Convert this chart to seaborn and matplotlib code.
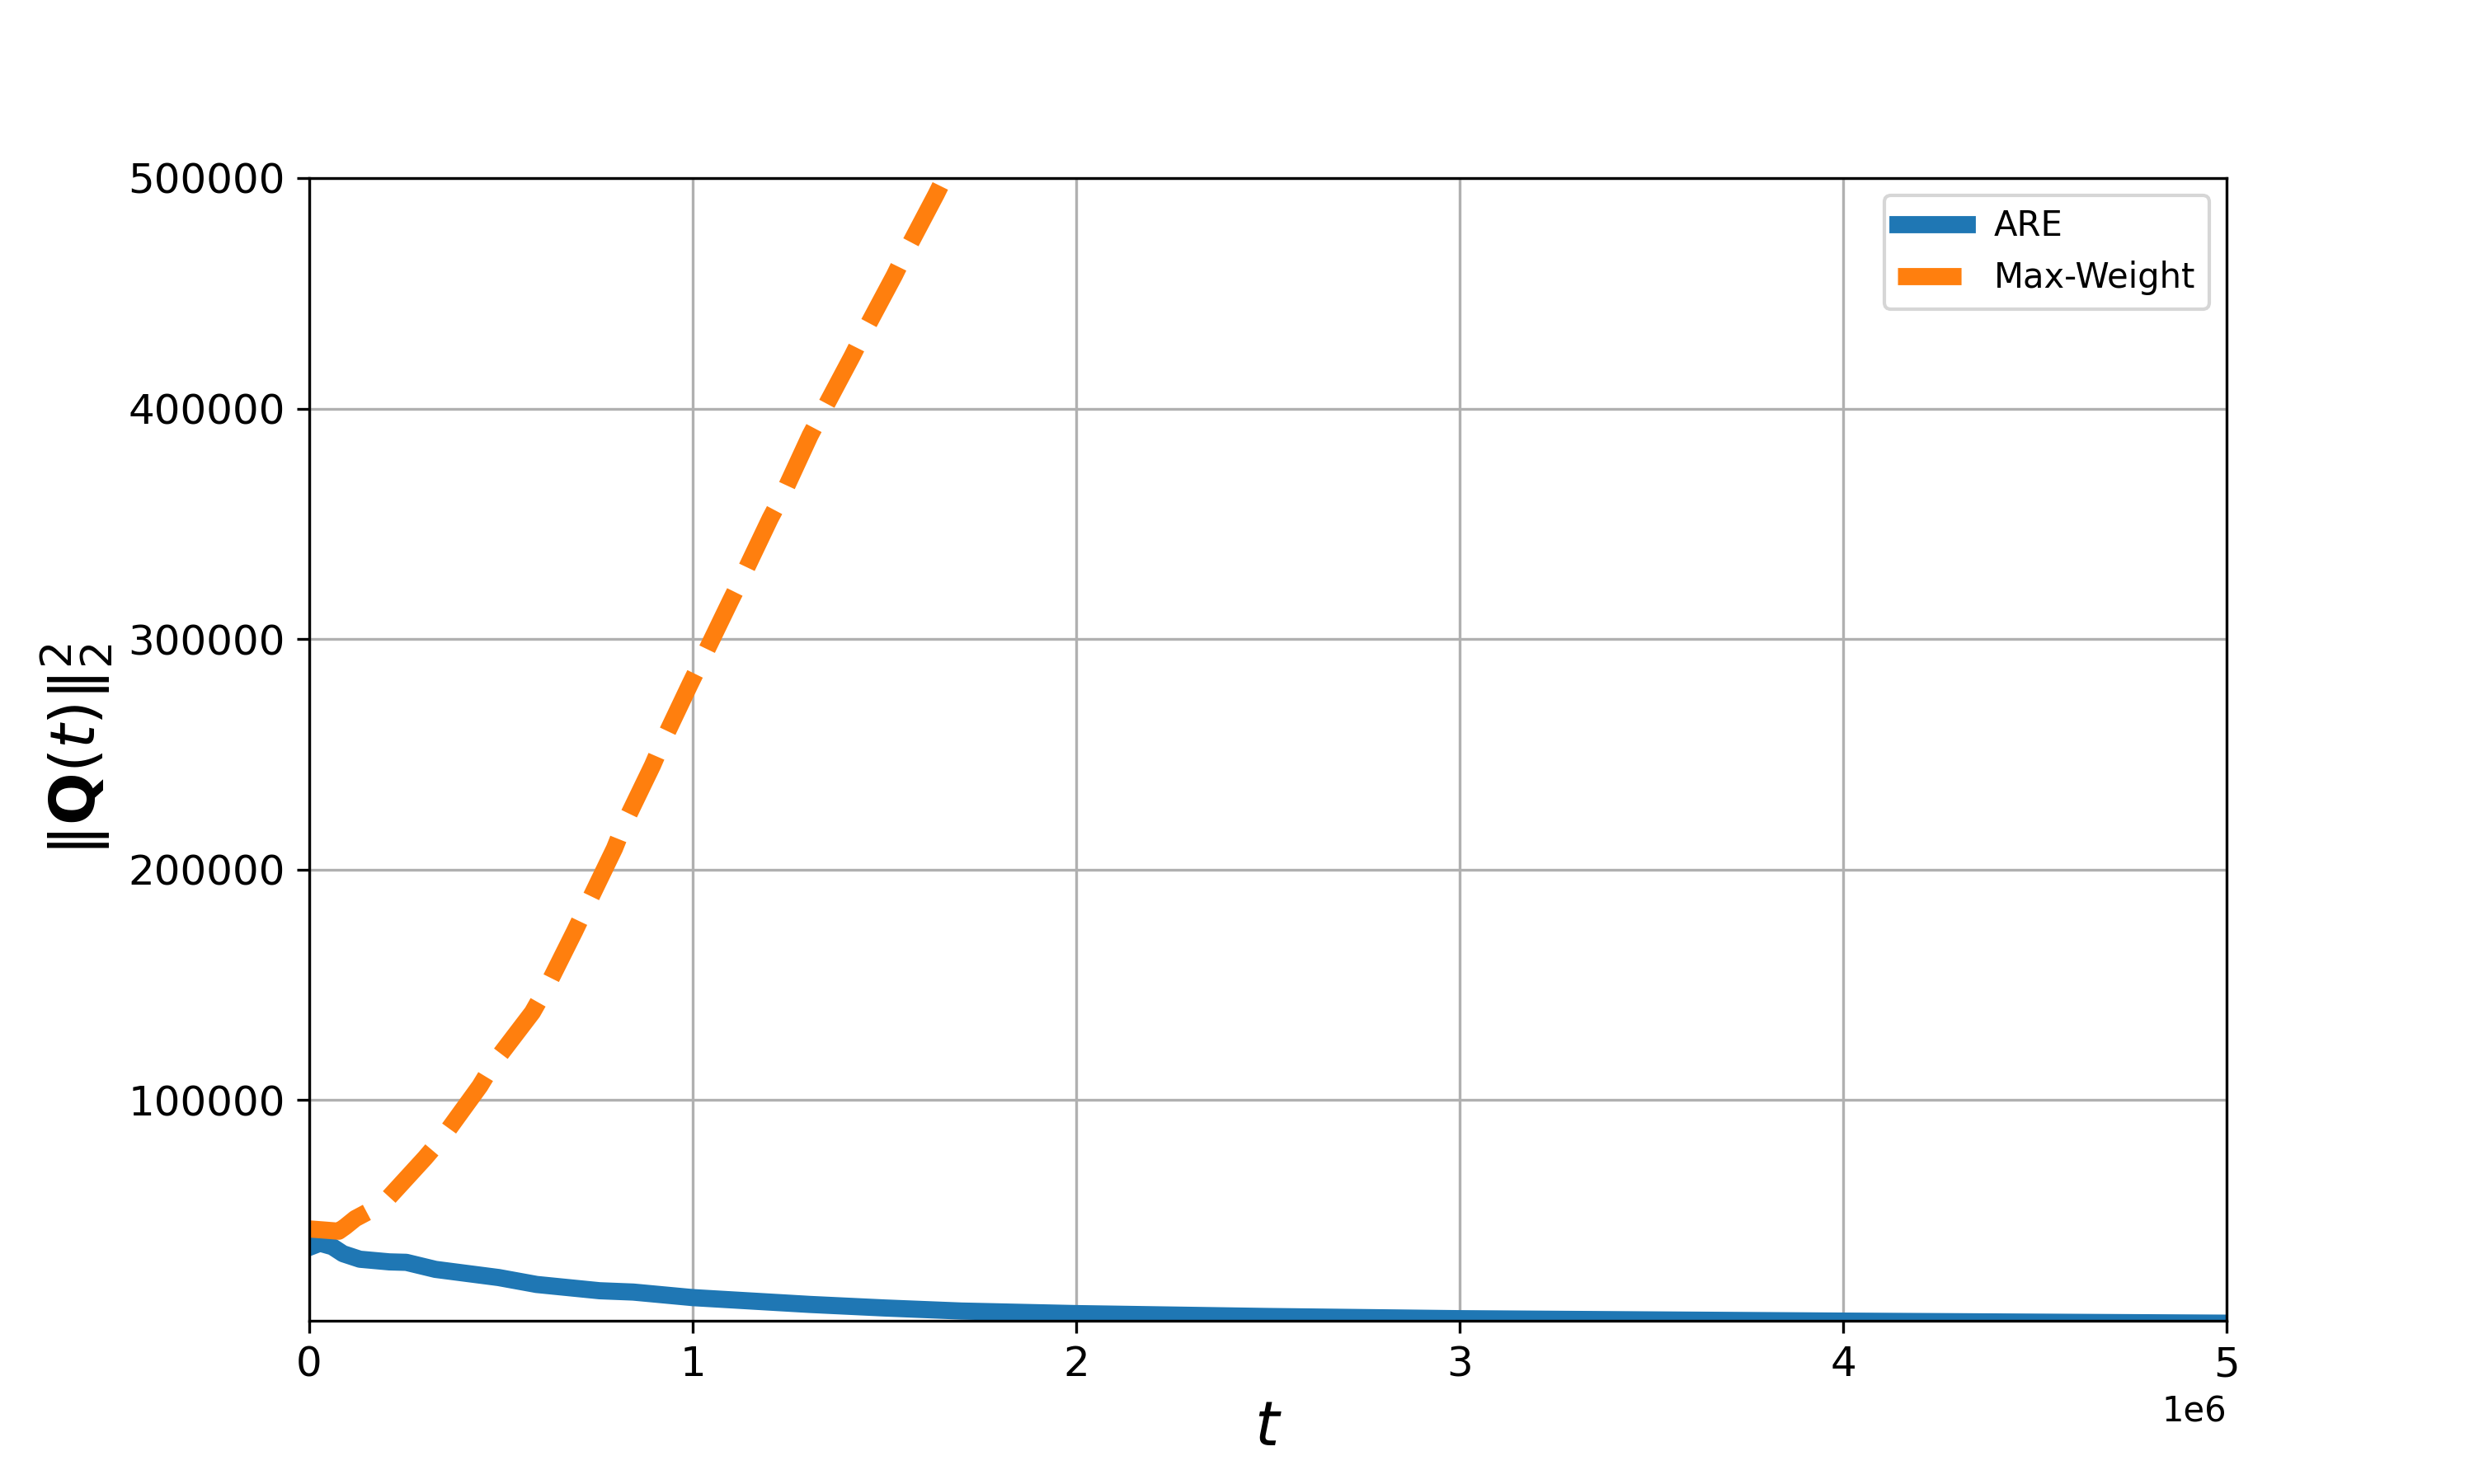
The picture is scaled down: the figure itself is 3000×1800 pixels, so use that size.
import matplotlib
matplotlib.use("Agg")
import matplotlib.pyplot as plt
import seaborn as sns
import pandas as pd

# ARE series (t in units of 1e6 for readability, converted below)
t_are = [0.0, 0.028, 0.06, 0.088, 0.132, 0.209, 0.253, 0.329, 0.494, 0.593,
         0.757, 0.845, 1.0, 1.305, 1.5, 1.70, 2.0, 2.5, 3.0, 4.0, 5.0]
q_are = [36000, 37800, 36300, 33250, 30850, 29700, 29500, 26450, 22900, 19900,
         17180, 16600, 14200, 11240, 9700, 8370, 7260, 6000, 5050, 4000, 3100]

# Max-Weight series
t_mw = [0.0, 0.04, 0.077, 0.094, 0.12, 0.192, 0.302, 0.351, 0.445, 0.483, 0.582,
        0.620, 0.692, 0.724, 0.796, 0.823, 0.895, 0.922, 0.993, 1.026, 1.098,
        1.131, 1.202, 1.235, 1.306, 1.339, 1.416, 1.449, 1.526, 1.559, 1.635, 1.70]
q_mw = [44000, 43500, 43000, 45000, 48500, 54850, 74830, 84420, 106000, 116400,
        138000, 149150, 173140, 184300, 209100, 220300, 245100, 255500, 280400,
        291600, 316400, 327500, 352300, 362700, 388300, 398700, 422800, 433800,
        457800, 469000, 493000, 515000]

df_are = pd.DataFrame({"t": [v * 1e6 for v in t_are], "q": q_are})
df_mw = pd.DataFrame({"t": [v * 1e6 for v in t_mw], "q": q_mw})

plt.style.use("default")
fig, ax = plt.subplots(figsize=(10, 6), dpi=300)

sns.lineplot(data=df_are, x="t", y="q", ax=ax, color="#1f77b4", linewidth=5,
             label="ARE", sort=False, estimator=None)
sns.lineplot(data=df_mw, x="t", y="q", ax=ax, color="#ff7f0e", linewidth=5,
             linestyle="--", label="Max-Weight", sort=False, estimator=None)

ax.set_xlim(0, 5e6)
ax.set_ylim(4150, 500000)
ax.set_yticks([100000, 200000, 300000, 400000, 500000])
ax.tick_params(axis="both", labelsize=12)
ax.xaxis.get_offset_text().set_fontsize(10)
ax.grid(True)
ax.set_xlabel(r"$t$", fontsize=18)
ax.set_ylabel(r"$\|\mathbf{Q}(t)\|_2^2$", fontsize=18)
ax.legend(loc="upper right", fontsize=10)

fig.savefig("out.png", dpi=300)
